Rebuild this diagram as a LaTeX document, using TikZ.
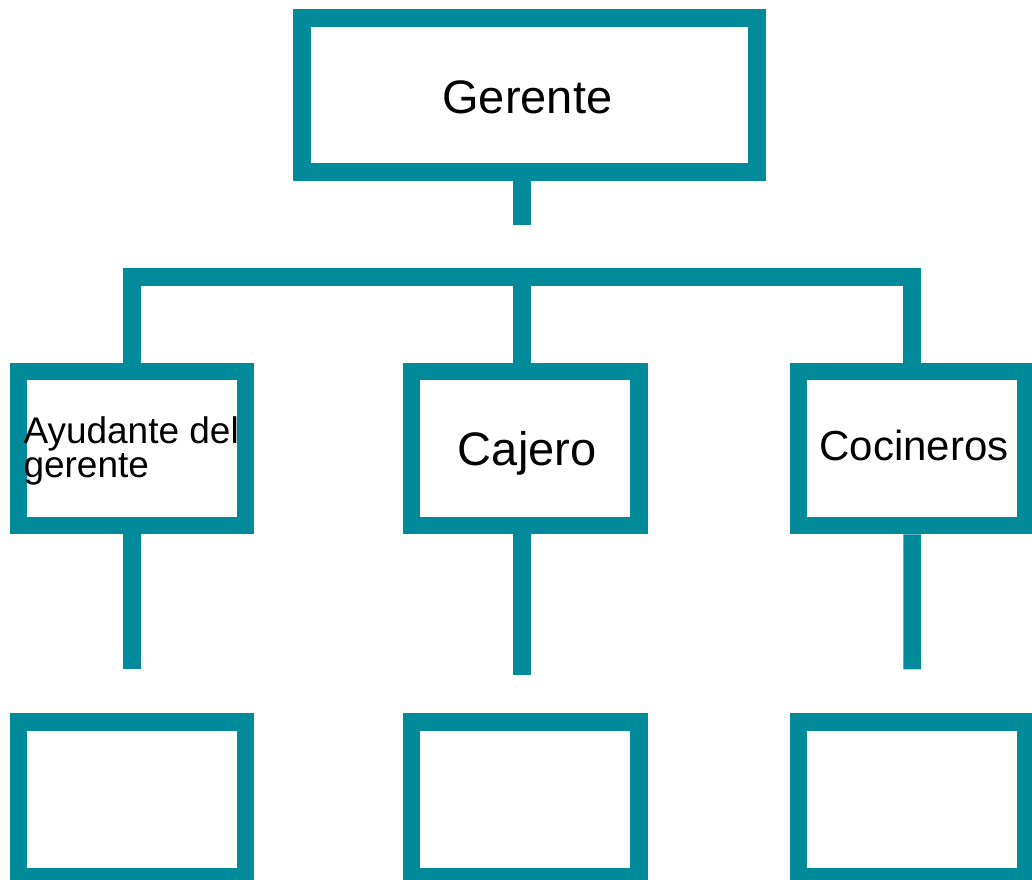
\documentclass[tikz,border=0pt]{standalone}
\usepackage{fontspec}
\setmainfont{Liberation Sans}
\definecolor{teal1}{RGB}{0,138,154}
\begin{document}
\begin{tikzpicture}[x=1pt,y=-1pt,
  box/.style={draw=teal1, line width=17.5pt, rectangle, minimum width=227.4pt, minimum height=154.3pt, inner sep=0pt},
  link/.style={draw=teal1, line width=17.5pt},
  lbl/.style={inner sep=0pt, anchor=base, text=black}]
\useasboundingbox (0,0) rectangle (1032,879);
% boxes
\node[box, minimum width=455pt] (ger) at (529.5,95) {};
\node[box] (ayu) at (132,448.4) {};
\node[box] (caj) at (525.2,448.4) {};
\node[box] (coc) at (912.1,448.4) {};
\node[box, minimum height=155pt] (b1) at (132,799.5) {};
\node[box, minimum height=155pt] (b2) at (525.2,799.5) {};
\node[box, minimum height=155pt] (b3) at (912.1,799.5) {};
% labels
\node[lbl] (tger) at (527.3,113.3) {\fontsize{47}{50}\selectfont Gerente};
\node[lbl] (tcaj) at (527.2,465) {\fontsize{47}{50}\selectfont Cajero};
\node[lbl] (tcoc) at (913.9,460) {\fontsize{42}{45}\selectfont Cocineros};
\node[lbl, anchor=base west] (tayu) at (23.3,443.3) {\fontsize{37}{34}\selectfont\vtop{\hbox{Ayudante del}\hbox{gerente}}};
% connectors
\coordinate (c0) at (522,225.3);
\coordinate (bar) at (522,277);
\coordinate (d1) at (132,669.3);
\coordinate (d2) at (522,675);
\coordinate (d3) at (912,669.3);
\draw[link] (ger.south -| c0) -- (c0);
\draw[link] (ayu.north) -- (ayu.north |- bar) -- (coc.north |- bar) -- (coc.north);
\draw[link] (bar) -- (bar |- caj.north);
\draw[link] (ayu.south) -- (d1);
\draw[link] (caj.south -| d2) -- (d2);
\draw[link] (coc.south) -- (d3);
\end{tikzpicture}
\end{document}
